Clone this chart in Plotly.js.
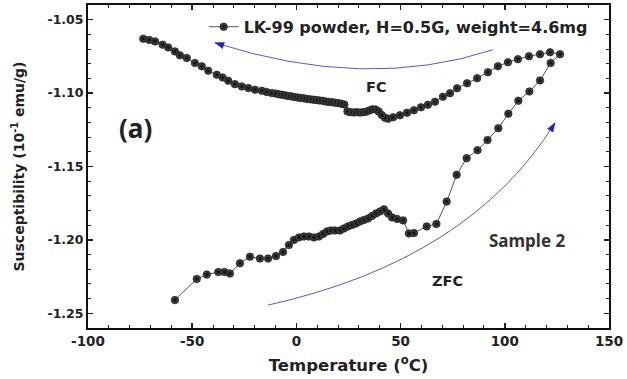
<!DOCTYPE html>
<html>
<head>
<meta charset="utf-8">
<script src="https://cdn.plot.ly/plotly-3.0.1.min.js"></script>
<style>html,body{margin:0;padding:0;background:#fff;}#chart{width:627px;height:379px;}</style>
</head>
<body>
<div id="chart"></div>
<script>
// ZFC branch (warming, zero-field cooled), temperature in °C
const tempZFC = [-58.3,-47.8,-43.0,-37.5,-34.5,-31.9,-27.1,-22.3,-17.5,-13.6,-9.8,-6.4,-3.6,-1.2,1.2,3.6,6.0,8.4,10.8,12.8,14.7,16.6,18.5,20.9,22.8,24.8,26.7,28.6,30.5,32.4,34.4,36.3,38.2,40.1,42.0,44.0,45.9,48.3,51.2,54.0,56.4,62.5,67.2,72.1,76.9,81.7,86.9,91.7,96.9,101.7,106.5,111.8,116.9,122.0];
const chiZFC = [-1.2410,-1.2266,-1.2236,-1.2219,-1.2219,-1.2229,-1.2159,-1.2114,-1.2127,-1.2127,-1.2110,-1.2082,-1.2035,-1.2000,-1.1983,-1.1977,-1.1977,-1.1983,-1.1977,-1.1959,-1.1942,-1.1936,-1.1936,-1.1936,-1.1922,-1.1908,-1.1898,-1.1888,-1.1874,-1.1864,-1.1854,-1.1837,-1.1820,-1.1806,-1.1792,-1.1820,-1.1847,-1.1857,-1.1867,-1.1956,-1.1953,-1.1908,-1.1891,-1.1739,-1.1557,-1.1443,-1.1389,-1.1320,-1.1239,-1.1141,-1.1052,-1.0989,-1.0914,-1.0795];
// FC branch (cooling, field cooled)
const tempFC = [126.5,121.7,116.9,111.6,106.3,101.5,96.7,91.9,86.7,81.9,77.1,73.7,70.3,66.5,63.1,59.8,56.4,53.1,49.7,46.4,44.0,42.5,41.0,39.5,38.0,36.5,35.0,33.5,32.0,30.5,29.0,27.5,26.0,24.5,23.0,21.5,20.0,18.5,17.0,15.5,14.0,12.5,11.0,9.5,8.0,6.5,5.0,3.5,2.0,0.5,-1.0,-2.5,-4.0,-5.5,-7.0,-8.5,-10.0,-11.9,-14.3,-16.6,-19.9,-23.1,-26.2,-29.5,-32.7,-35.4,-38.2,-42.3,-45.4,-48.7,-52.6,-55.9,-58.3,-61.5,-64.2,-67.8,-70.6,-73.5];
const chiFC = [-1.0735,-1.0722,-1.0735,-1.0749,-1.0769,-1.0790,-1.0817,-1.0858,-1.0899,-1.0933,-1.0967,-1.1001,-1.1025,-1.1059,-1.1080,-1.1097,-1.1117,-1.1134,-1.1151,-1.1165,-1.1175,-1.1168,-1.1150,-1.1125,-1.1112,-1.1110,-1.1118,-1.1127,-1.1130,-1.1133,-1.1130,-1.1132,-1.1130,-1.1125,-1.1078,-1.1072,-1.1068,-1.1065,-1.1062,-1.1060,-1.1057,-1.1052,-1.1050,-1.1047,-1.1045,-1.1042,-1.1040,-1.1035,-1.1033,-1.1030,-1.1027,-1.1022,-1.1020,-1.1015,-1.1012,-1.1008,-1.1003,-1.1000,-1.0993,-1.0984,-1.0977,-1.0966,-1.0955,-1.0939,-1.0916,-1.0894,-1.0875,-1.0848,-1.0818,-1.0795,-1.0761,-1.0743,-1.0716,-1.0689,-1.0670,-1.0648,-1.0638,-1.0630];

const seriesName = 'LK-99 powder, H=0.5G, weight=4.6mg';
const xTickVals = [-100,-50,0,50,100,150];
const xTickText = ['-100','-50','0','50','100','150'];
const yTickVals = [-1.25,-1.20,-1.15,-1.10,-1.05];
const yTickText = ['-1.25','-1.20','-1.15','-1.10','-1.05'];

const allT = tempZFC.concat(tempFC);
const allChi = chiZFC.concat(chiFC);

const W = 627, H = 379, M = {l:88, r:18, t:5, b:51};
const xRange = [-100,150], yRange = [-1.26,-1.04];
// data <-> pixel helpers (for the decorative arrowheads only)
const plotW = W - M.l - M.r, plotH = H - M.t - M.b;
const toPx = (x,y) => [M.l + (x - xRange[0]) / (xRange[1]-xRange[0]) * plotW, M.t + (yRange[1] - y) / (yRange[1]-yRange[0]) * plotH];
const toData = (px,py) => [xRange[0] + (px - M.l) / plotW * (xRange[1]-xRange[0]), yRange[1] - (py - M.t) / plotH * (yRange[1]-yRange[0])];
function arrowHead(tx, ty, fx, fy, len, half){
  const [tpx,tpy] = toPx(tx,ty), [fpx,fpy] = toPx(fx,fy);
  let dx = tpx - fpx, dy = tpy - fpy; const n = Math.hypot(dx,dy); dx/=n; dy/=n;
  const bx = tpx - dx*len, by = tpy - dy*len;
  const p1 = toData(bx - dy*half, by + dx*half), p2 = toData(bx + dy*half, by - dx*half);
  return 'M '+tx+','+ty+' L '+p1[0]+','+p1[1]+' L '+p2[0]+','+p2[1]+' Z';
}

const blue = '#5a5ac4';
const blueHead = '#2424a8';
const fcArrow = {start:[94.3,-1.0705], ctrl:[33.4,-1.0988], end:[-39.1,-1.0657]};
const zfcArrow = {start:[-13.6,-1.2444], ctrl:[83.3,-1.2137], end:[124.1,-1.1202]};
const curvePath = a => 'M '+a.start[0]+','+a.start[1]+' Q '+a.ctrl[0]+','+a.ctrl[1]+' '+a.end[0]+','+a.end[1];

const trace = {
  x: allT, y: allChi, name: seriesName, type:'scatter', mode:'lines+markers',
  line:{color:'#555', width:1},
  marker:{size:7.5, color:'#555', gradient:{type:'radial', color:'#050505'}, line:{color:'#000', width:0.6}},
  showlegend:true
};

const fam = 'DejaVu Sans, Arial, sans-serif';
const layout = {
  width:W, height:H,
  margin:M,
  paper_bgcolor:'#fff', plot_bgcolor:'#fff',
  font:{family:fam, color:'#222'},
  showlegend:true,
  legend:{x:0.222, y:0.985, xanchor:'left', yanchor:'top', bgcolor:'rgba(0,0,0,0)',
          font:{family:fam, size:16, color:'#222', weight:'bold'}},
  xaxis:{range:xRange, tickvals:xTickVals, ticktext:xTickText, ticks:'inside', ticklen:5, tickwidth:1.5, tickcolor:'#222',
         mirror:'allticks', showline:true, linewidth:2, linecolor:'#111', showgrid:false, zeroline:false,
         minor:{dtick:10, tick0:0, ticks:'inside', ticklen:3, tickwidth:1, tickcolor:'#222', showgrid:false},
         tickfont:{family:fam, size:13.5, color:'#222', weight:'bold'},
         title:{text:'Temperature (<sup>o</sup>C)', font:{family:fam, size:16.5, color:'#222', weight:'bold'}, standoff:11}},
  yaxis:{range:yRange, tickvals:yTickVals, ticktext:yTickText, ticks:'inside', ticklen:5, tickwidth:1.5, tickcolor:'#222',
         mirror:'allticks', showline:true, linewidth:2, linecolor:'#111', showgrid:false, zeroline:false,
         minor:{dtick:0.01, tick0:-1.25, ticks:'inside', ticklen:3, tickwidth:1, tickcolor:'#222', showgrid:false},
         tickfont:{family:fam, size:12.5, color:'#222', weight:'bold'},
         title:{text:'Susceptibility (10<sup>-1</sup> emu/g)', font:{family:fam, size:14, color:'#222', weight:'bold'}, standoff:20}},
  shapes:[
    {type:'path', xref:'x', yref:'y', path:curvePath(fcArrow), line:{color:blue, width:1}},
    {type:'path', xref:'x', yref:'y', path:curvePath(zfcArrow), line:{color:blue, width:1}},
    {type:'path', xref:'x', yref:'y', path:arrowHead(fcArrow.end[0],fcArrow.end[1],fcArrow.ctrl[0],fcArrow.ctrl[1],9,3.2), fillcolor:blueHead, line:{color:blueHead, width:0.5}},
    {type:'path', xref:'x', yref:'y', path:arrowHead(zfcArrow.end[0],zfcArrow.end[1],zfcArrow.ctrl[0],zfcArrow.ctrl[1],9,3.2), fillcolor:blueHead, line:{color:blueHead, width:0.5}}
  ],
  annotations:[
    {x:-77.4, y:-1.1237, xref:'x', yref:'y', text:'(a)', showarrow:false, font:{family:'Noto Sans, Open Sans, sans-serif', size:26, color:'#222', weight:'bold'}},
    {x:38.2, y:-1.0957, xref:'x', yref:'y', text:'FC', showarrow:false, font:{family:fam, size:14.5, color:'#222', weight:'bold'}},
    {x:72.7, y:-1.228, xref:'x', yref:'y', text:'ZFC', showarrow:false, font:{family:fam, size:14.5, color:'#222', weight:'bold'}},
    {x:111.1, y:-1.2007, xref:'x', yref:'y', text:'Sample 2', showarrow:false, font:{family:'Noto Sans, Open Sans, sans-serif', size:17, color:'#333', weight:'bold'}}
  ]
};

Plotly.newPlot('chart', [trace], layout, {displayModeBar:false, staticPlot:true});
</script>
</body>
</html>
